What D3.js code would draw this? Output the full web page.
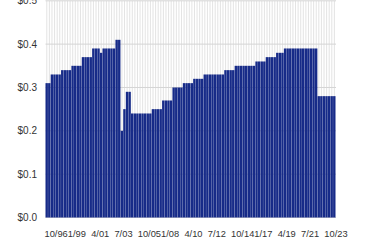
<!DOCTYPE html>
<html>
<head>
<meta charset="utf-8">
<script src="https://cdn.jsdelivr.net/npm/d3@7"></script>
<style>
body { margin: 0; background: #fff; }
svg { display: block; }
text { font-family: "Liberation Sans", Arial, sans-serif; fill: #333; }
</style>
</head>
<body>
<svg id="chart" width="370" height="250"></svg>
<script>
// quarterly dividend, 10/96 .. 4/24
const runs = [
  [2, 0.31], [4, 0.33], [4, 0.34], [4, 0.35], [4, 0.37], [3, 0.39], [1, 0.38],
  [5, 0.39], [2, 0.41], [1, 0.20], [1, 0.25], [2, 0.29], [8, 0.24], [4, 0.25],
  [4, 0.27], [4, 0.30], [4, 0.31], [4, 0.32], [8, 0.33], [4, 0.34], [8, 0.35],
  [4, 0.36], [4, 0.37], [3, 0.38], [13, 0.39], [7, 0.28]
];
const values = runs.flatMap(([n, v]) => Array(n).fill(v));
const months = [1, 4, 7, 10];
const quarters = values.map((d, i) => {
  const k = i + 3; // 10/96 is month index 3 of 1996
  const yr = 1996 + Math.floor(k / 4);
  return `${months[k % 4]}/${String(yr % 100).padStart(2, "0")}`;
});
const yTicks = [0, 0.1, 0.2, 0.3, 0.4, 0.5];
const labelEvery = 9;

const svg = d3.select("#chart");

const x = d3.scaleBand()
  .domain(quarters)
  .range([45.5, 335.5])
  .paddingInner(0.07)
  .paddingOuter(0);

const y = d3.scaleLinear()
  .domain([0, 0.5])
  .range([217.5, 0.8]);

// vertical background grid, one per quarter
const step = x.step();
svg.append("g")
  .selectAll("line")
  .data(quarters)
  .join("line")
  .attr("x1", d => x(d) + step / 2)
  .attr("x2", d => x(d) + step / 2)
  .attr("y1", y(0.5))
  .attr("y2", y(0))
  .attr("stroke", "#dcdcdc")
  .attr("stroke-width", 0.8);

// horizontal grid
svg.append("g")
  .selectAll("line")
  .data(yTicks)
  .join("line")
  .attr("x1", 45.5)
  .attr("x2", 336)
  .attr("y1", d => y(d))
  .attr("y2", d => y(d))
  .attr("stroke", "#d4d4d4")
  .attr("stroke-width", 1);

// bars
svg.append("g")
  .selectAll("rect")
  .data(values)
  .join("rect")
  .attr("x", (d, i) => x(quarters[i]))
  .attr("width", x.bandwidth())
  .attr("y", d => y(d))
  .attr("height", d => y(0) - y(d))
  .attr("fill", "#172b88");

// y axis labels
svg.append("g")
  .selectAll("text")
  .data(yTicks)
  .join("text")
  .attr("x", 37)
  .attr("y", d => y(d))
  .attr("dy", "0.35em")
  .attr("text-anchor", "end")
  .style("font-size", "10px")
  .text(d => "$" + d.toFixed(1));

// x axis labels
svg.append("g")
  .selectAll("text")
  .data(quarters.filter((d, i) => i % labelEvery === 0))
  .join("text")
  .attr("x", d => x(d) - 1)
  .attr("y", 236.5)
  .style("font-size", "9.3px")
  .text(d => d);
</script>
</body>
</html>
